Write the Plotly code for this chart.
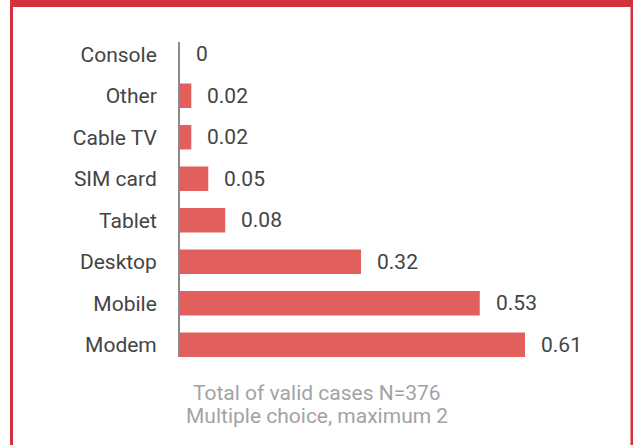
import plotly.graph_objects as go

categories = ["Console", "Other", "Cable TV", "SIM card", "Tablet", "Desktop", "Mobile", "Modem"]
values = [0, 0.02, 0.02, 0.05, 0.08, 0.32, 0.53, 0.61]
value_labels = ["0", "0.02", "0.02", "0.05", "0.08", "0.32", "0.53", "0.61"]
footnote_lines = ["Total of valid cases N=376", "Multiple choice, maximum 2"]

W, H = 634, 445
L, R, T, B = 180, 34, 42, 88
pw, ph = W - L - R, H - T - B

def px(x):
    return (x - L) / pw

def py(y):
    return (H - B - y) / ph

FONT = "Roboto"
BAR = "#E2605B"
RED = "#D3323D"
TXT = "#444444"
FS = 21

fig = go.Figure(go.Bar(
    x=values, y=categories, orientation="h",
    marker=dict(color=BAR, line=dict(width=0)),
    hoverinfo="skip",
))

for c, v, t in zip(categories, values, value_labels):
    fig.add_annotation(x=v, y=c, text=t, showarrow=False, xanchor="left",
                       xshift=14, font=dict(family=FONT, size=FS, color=TXT))

for line, yc in zip(footnote_lines, [393, 416]):
    fig.add_annotation(x=px(317), y=py(yc), xref="paper", yref="paper", text=line,
                       showarrow=False, xanchor="center", yanchor="middle",
                       font=dict(family=FONT, size=FS, color="#A3A3A3"))

# frame
for x0, x1, y0, y1 in [(10, 633, 0, 7), (10, 13, 0, 445), (630.5, 633, 0, 445)]:
    fig.add_shape(type="rect", xref="paper", yref="paper",
                  x0=px(x0), x1=px(x1), y0=py(y1), y1=py(y0),
                  fillcolor=RED, line=dict(width=0), layer="above")

n = len(categories)
fig.update_layout(
    width=W, height=H,
    margin=dict(l=L, r=R, t=T, b=B),
    paper_bgcolor="white", plot_bgcolor="white",
    bargap=0.41,
    showlegend=False,
    font=dict(family=FONT, size=FS, color=TXT),
    xaxis=dict(range=[0, pw / 565.6], visible=False, fixedrange=True),
    yaxis=dict(range=[n - 1 + 0.295, -0.295], showline=True, linecolor="#8A8A8A",
               linewidth=2, ticks="", showgrid=False, zeroline=False,
               ticklabelstandoff=17, layer="below traces", fixedrange=True,
               tickfont=dict(family=FONT, size=FS, color=TXT)),
)

fig.write_html("out.html", config={"displayModeBar": False},
               post_script="document.body.style.margin='0';")
